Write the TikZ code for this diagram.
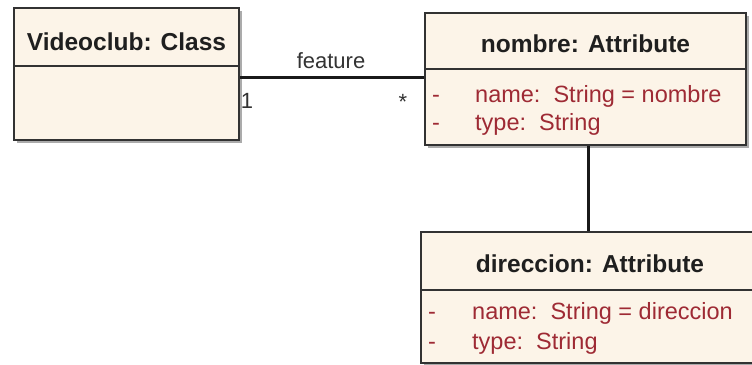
\documentclass[tikz,border=0pt]{standalone}
\usepackage{fontspec}
\setmainfont{Liberation Sans}
\usetikzlibrary{shadows,calc}
\definecolor{boxfill}{RGB}{252,244,232}
\definecolor{boxline}{RGB}{50,50,50}
\definecolor{attr}{RGB}{158,42,52}
\begin{document}
\begin{tikzpicture}[x=1pt,y=-1pt,
  umlbox/.style={draw=boxline, line width=2pt, fill=boxfill, inner sep=0pt, anchor=north west,
    drop shadow={shadow xshift=3pt, shadow yshift=-3pt, fill=black!55, opacity=0.6}},
  divider/.style={draw=boxline, line width=2pt},
  conn/.style={draw=black!90, line width=3pt},
  title/.style={font=\fontsize{24.5}{28}\selectfont\bfseries, text=black!88, anchor=base, inner sep=0pt},
  attrtxt/.style={font=\fontsize{23.5}{28}\selectfont, text=attr, anchor=base west, inner sep=0pt},
  dashmark/.style={font=\fontsize{23.5}{28}\selectfont, text=attr, anchor=base, inner sep=0pt},
  lbl/.style={font=\fontsize{22}{26}\selectfont, text=black!80, anchor=base, inner sep=0pt}]
\useasboundingbox (0,0) rectangle (752,364);
\clip (0,0) rectangle (752,364);
\fill[white] (0,0) rectangle (752,364);

% boxes
\node[umlbox, minimum width=225pt, minimum height=132pt] (vc) at (13,7) {};
\node[umlbox, minimum width=321pt, minimum height=132pt] (nb) at (424,12) {};
\node[umlbox, minimum width=340pt, minimum height=131pt] (dc) at (420,231) {};

% dividers
\draw[divider] (vc.west |- 0,66) -- (vc.east |- 0,66);
\draw[divider] (nb.west |- 0,69) -- (nb.east |- 0,69);
\draw[divider] (dc.west |- 0,290) -- (dc.east |- 0,290);

% titles
\node[title] (vct) at (vc.north |- 0,50) {Videoclub: Class};
\node[title] (nbt) at (nb.north |- 0,52) {nombre: Attribute};
\node[title] (dct) at (590,272) {direccion: Attribute};

% attributes of nombre
\node[dashmark] (nbd1) at (436,102) {-};
\node[attrtxt] (nba1) at (475,102) {name:\ \ String = nombre};
\node[dashmark] (nbd2) at (436,130) {-};
\node[attrtxt] (nba2) at (475,130) {type:\ \ String};

% attributes of direccion
\node[dashmark] (dcd1) at (432,319) {-};
\node[attrtxt] (dca1) at (472,319) {name:\ \ String = direccion};
\node[dashmark] (dcd2) at (432,349) {-};
\node[attrtxt] (dca2) at (472,349) {type:\ \ String};

% connectors
\draw[conn] (vc.east |- 0,77) -- (nb.west |- 0,77);
\draw[conn] ([xshift=2.5pt]nb.south) -- ([xshift=2.5pt]nb.south |- dc.north);

% association labels
\node[lbl] (feat) at (331,68) {feature};
\node[lbl] (m1) at (247,108) {1};
\node[lbl] (m2) at (403,109) {*};
\end{tikzpicture}
\end{document}
